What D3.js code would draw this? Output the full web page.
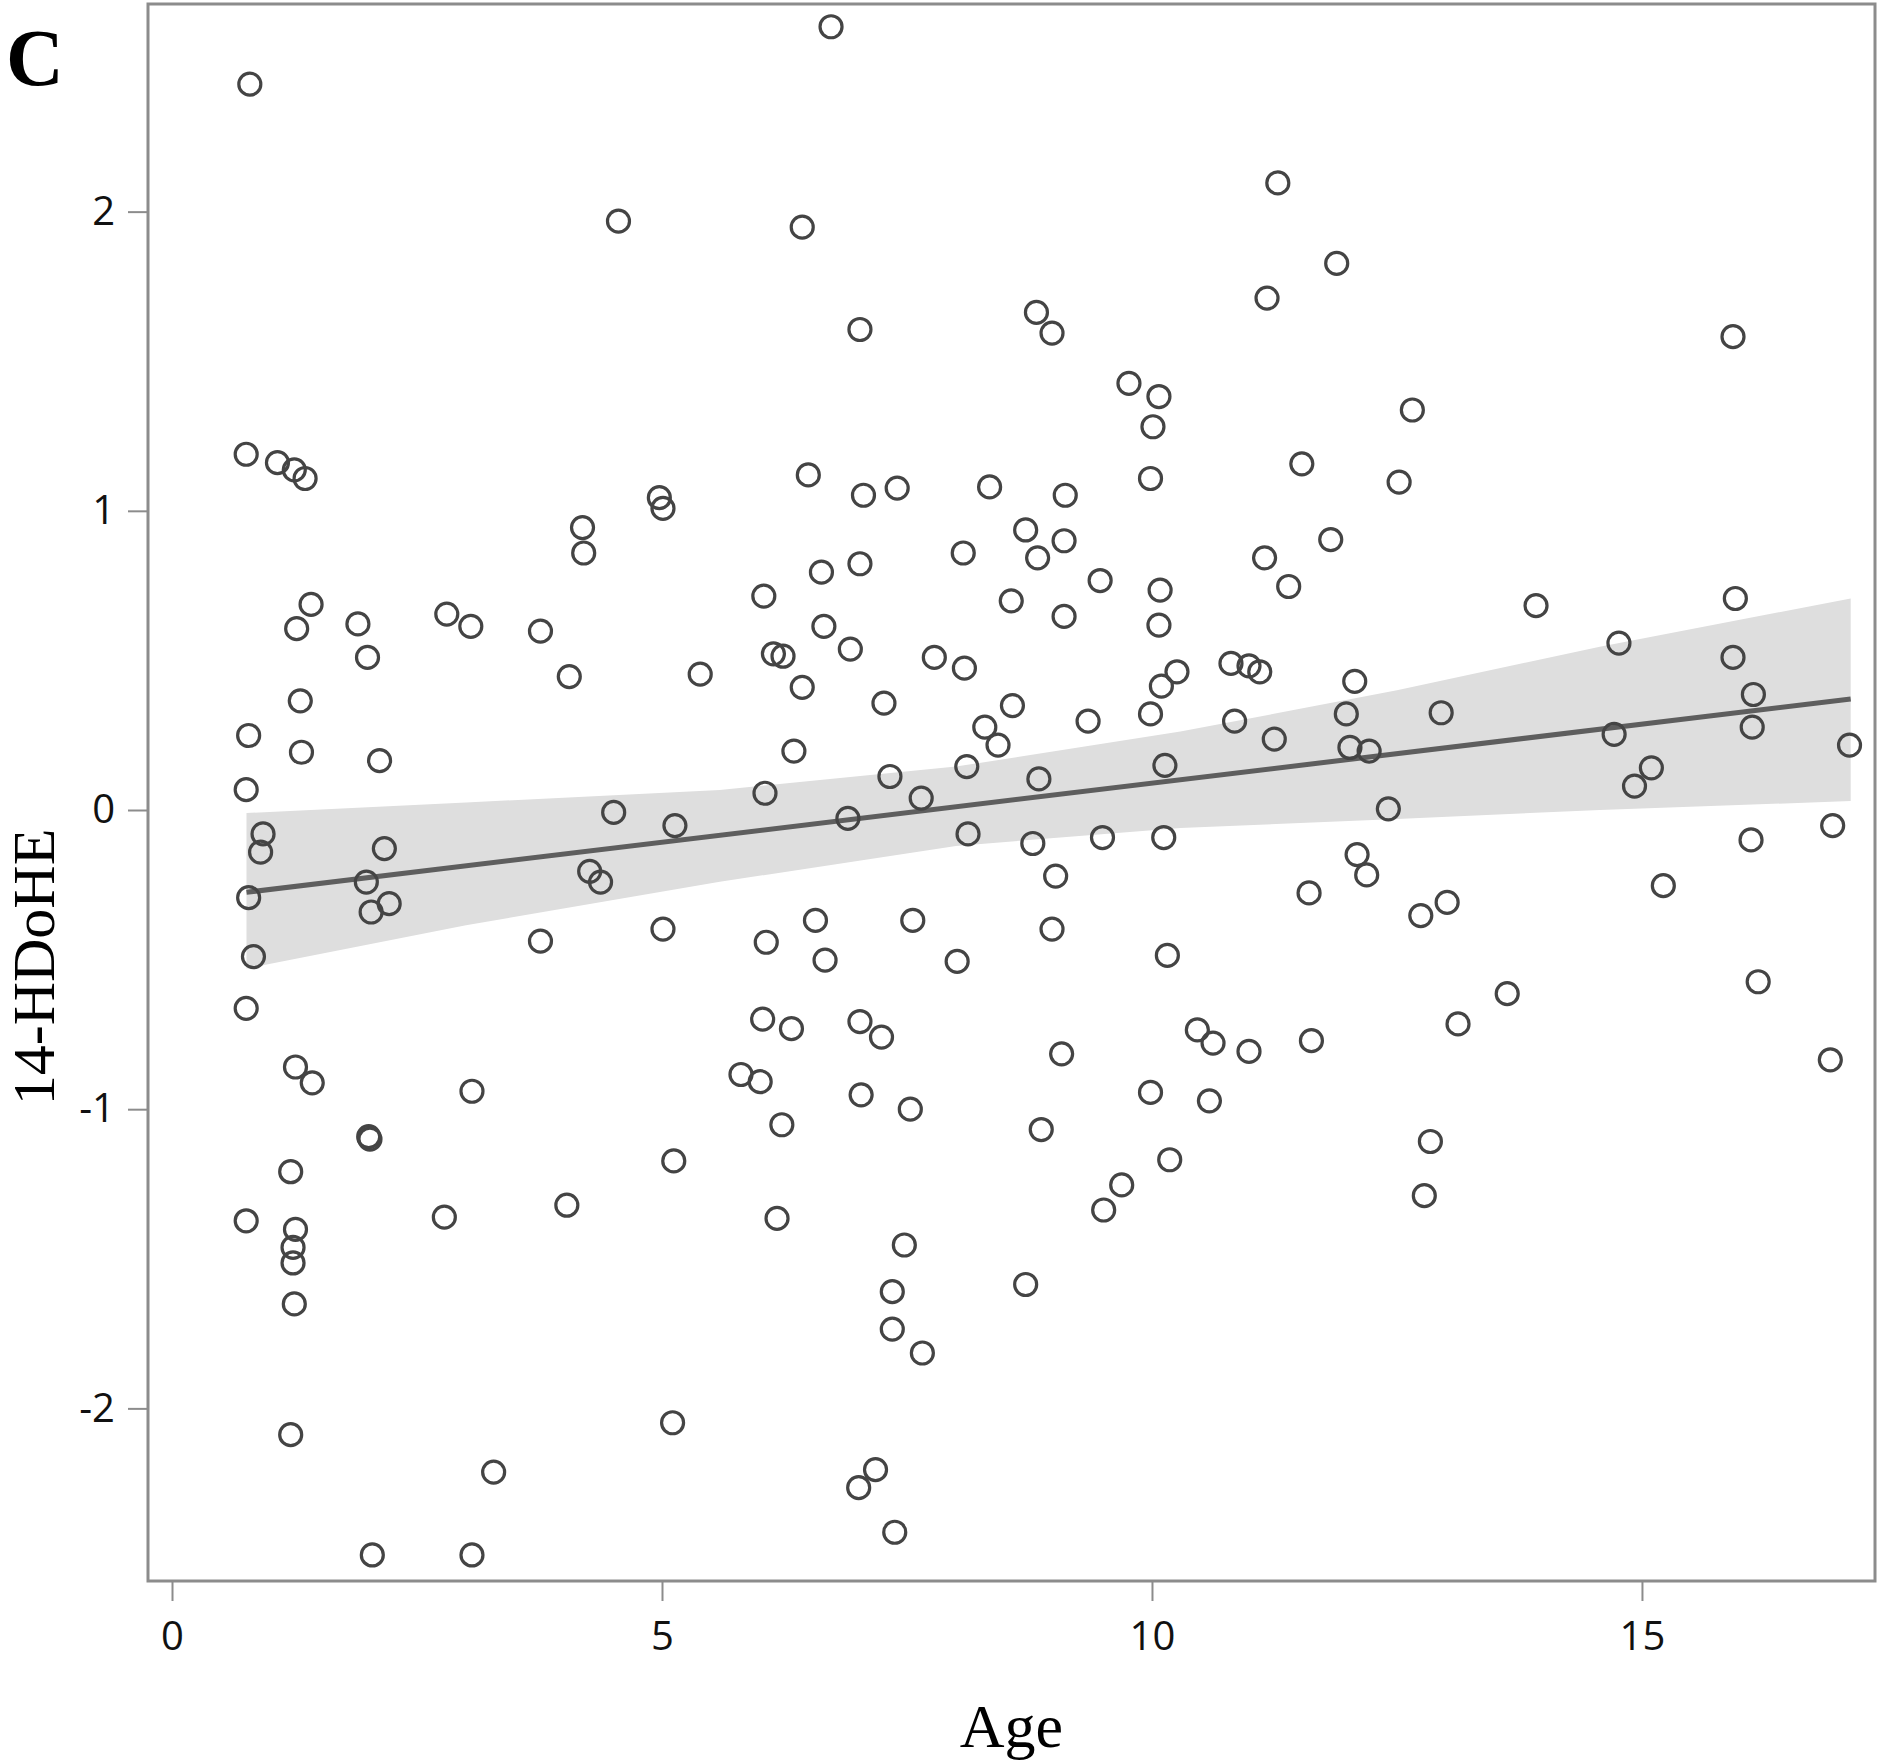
<!DOCTYPE html>
<html lang='en'>
  <head>
    <meta charset="utf-8">
    <style>
      body { margin: 0; background: #ffffff; }
      .tick text {
            font-family: "Open Sans", sans-serif;
            font-size: 40px;
            fill: #111111;
      }
      .title {
            font-family: "Liberation Serif", "Times New Roman", serif;
            fill: #000000;
      }
    </style>
    <title>14-HDoHE vs Age</title>
    <!-- Load d3.js -->
    <script src="https://d3js.org/d3.v7.min.js"></script>
  </head>

  <body>
    <div id="scatter"></div>

  <script>

    // ages (x) of every subject
    var ages = [
      0.794, 0.757, 1.076, 1.248, 1.358, 1.419, 1.272, 1.309, 0.782, 1.321,
      0.757, 0.929, 0.904, 0.782, 0.831, 0.757, 1.260, 1.431, 1.211, 0.757,
      1.260, 1.235, 1.235, 1.248, 1.211, 1.897, 1.995, 2.118, 2.167, 1.983,
      2.216, 2.032, 2.007, 2.020, 2.044, 2.804, 3.049, 3.061, 2.779, 3.282,
      3.061, 3.760, 4.054, 4.189, 4.201, 4.507, 4.262, 4.373, 3.760, 4.029,
      4.556, 4.973, 5.010, 5.390, 5.132, 5.010, 5.120, 5.108, 6.039, 6.137,
      6.235, 6.431, 6.346, 6.051, 6.064, 6.027, 6.321, 5.806, 6.002, 6.223,
      6.174, 6.431, 6.725, 6.493, 7.020, 7.056, 7.020, 6.627, 6.652, 6.922,
      6.897, 6.566, 6.664, 7.020, 7.032, 7.007, 7.179, 7.400, 7.265, 7.326,
      7.645, 7.559, 7.240, 7.534, 7.473, 7.350, 7.350, 7.657, 7.375, 7.779,
      8.086, 8.074, 8.343, 8.294, 8.429, 8.110, 8.123, 8.012, 8.821, 8.980,
      8.711, 8.833, 9.115, 9.103, 8.564, 9.103, 8.576, 8.846, 8.784, 9.017,
      8.980, 9.078, 8.870, 8.711, 9.765, 10.071, 10.010, 9.985, 9.471, 10.083,
      10.071, 10.255, 10.096, 9.985, 9.348, 10.132, 9.495, 10.120, 10.157, 9.985,
      9.691, 9.507, 10.181, 11.284, 11.174, 11.529, 11.149, 11.395, 10.806, 10.990,
      11.100, 10.843, 11.248, 10.463, 10.623, 10.990, 10.586, 11.885, 11.824, 12.522,
      12.657, 12.069, 11.983, 12.020, 12.216, 12.412, 12.093, 12.191, 11.603, 11.627,
      12.951, 12.743, 13.012, 13.123, 12.841, 12.779, 13.919, 13.625, 14.765, 14.716,
      15.096, 14.924, 15.218, 15.929, 15.953, 15.929, 16.137, 16.125, 16.113, 16.186,
      17.118, 16.946, 16.922
    ];

    // 14-HDoHE values (y), same order as ages
    var hdohe = [
      2.426, 1.189, 1.161, 1.137, 1.108, 0.687, 0.606, 0.365, 0.249, 0.193,
      0.068, -0.080, -0.141, -0.293, -0.490, -0.663, -0.859, -0.912, -1.209, -1.373,
      -1.402, -1.462, -1.514, -1.651, -2.088, 0.622, 0.510, 0.165, -0.129, -0.241,
      -0.313, -0.341, -1.092, -1.100, -2.490, 0.655, 0.614, -0.940, -1.361, -2.213,
      -2.490, 0.598, 0.446, 0.944, 0.859, -0.008, -0.205, -0.241, -0.438, -1.321,
      1.968, 1.044, 1.008, 0.454, -0.052, -0.398, -1.173, -2.048, 0.715, 0.522,
      0.514, 0.410, 0.197, 0.056, -0.442, -0.699, -0.731, -0.884, -0.908, -1.052,
      -1.365, 1.948, 2.618, 1.120, 1.606, 1.052, 0.823, 0.795, 0.614, 0.538,
      -0.028, -0.369, -0.502, -0.707, -0.952, -2.265, -2.205, 1.076, 0.357, 0.112,
      0.040, -0.369, -0.759, -1.000, -1.454, -1.610, -1.735, -1.815, -2.414, 0.510,
      0.474, 0.859, 1.080, 0.277, 0.217, 0.145, -0.080, -0.506, 1.663, 1.594,
      0.936, 0.843, 1.052, 0.900, 0.699, 0.647, 0.349, 0.104, -0.112, -0.221,
      -0.398, -0.815, -1.068, -1.586, 1.426, 1.382, 1.281, 1.108, 0.767, 0.735,
      0.618, 0.462, 0.414, 0.321, 0.297, 0.149, -0.092, -0.092, -0.486, -0.944,
      -1.253, -1.337, -1.169, 2.096, 1.711, 1.157, 0.843, 0.747, 0.490, 0.482,
      0.462, 0.297, 0.237, -0.735, -0.779, -0.807, -0.972, 1.827, 0.904, 1.096,
      1.337, 0.430, 0.321, 0.209, 0.197, 0.004, -0.149, -0.217, -0.277, -0.771,
      0.325, -0.353, -0.309, -0.715, -1.108, -1.289, 0.683, -0.614, 0.558, 0.253,
      0.141, 0.080, -0.253, 1.582, 0.707, 0.510, 0.386, 0.277, -0.100, -0.574,
      0.217, -0.052, -0.835
    ];

    // regression line and its confidence band
    var fitX = [0.76, 17.13];
    var fitY = [-0.275, 0.371];
    var bandX  = [0.76, 3.0, 5.59, 8.0, 10.29, 12.5, 14.57, 17.13];
    var bandLo = [-0.53, -0.385, -0.24, -0.12, -0.06, -0.03, 0.00, 0.03];
    var bandHi = [-0.01, 0.025, 0.067, 0.145, 0.262, 0.40, 0.546, 0.707];

    // tick values
    var xTicks = [0, 5, 10, 15];
    var yTicks = [-2, -1, 0, 1, 2];

    // set the dimensions and margins of the graph
    var margin = {top: 4, right: 9, bottom: 181, left: 148},
        width = 1884 - margin.left - margin.right,
        height = 1762 - margin.top - margin.bottom;

    var svg = d3.select("#scatter")
      .append("svg")
        .attr("width", 1884)
        .attr("height", 1762)
      .append("g")
        .attr("transform", "translate(" + margin.left + "," + margin.top + ")");

    var x = d3.scaleLinear()
      .domain([-0.245, 17.378])
      .range([0, width]);

    var y = d3.scaleLinear()
      .domain([-2.577, 2.694])
      .range([height, 0]);

    // plain labels like "2" and "-1"
    var plain = function(d) { return String(d); };

    // confidence band
    var band = bandX.map(function(v, i) { return {x: v, lo: bandLo[i], hi: bandHi[i]}; });
    svg.append("path")
      .datum(band)
      .attr("fill", "#dedede")
      .attr("d", d3.area()
        .x(function(d) { return x(d.x) })
        .y0(function(d) { return y(d.lo) })
        .y1(function(d) { return y(d.hi) }));

    // fitted line
    var fit = fitX.map(function(v, i) { return {x: v, y: fitY[i]}; });
    svg.append("path")
      .datum(fit)
      .attr("fill", "none")
      .attr("stroke", "#5e5e5e")
      .attr("stroke-width", 5)
      .attr("d", d3.line()
        .x(function(d) { return x(d.x) })
        .y(function(d) { return y(d.y) }));

    // the points
    svg.selectAll("dot")
      .data(ages)
      .enter()
      .append("circle")
        .attr("cx", function(d) { return x(d) })
        .attr("cy", function(d, i) { return y(hdohe[i]) })
        .attr("r", 11)
        .attr("fill", "none")
        .attr("stroke", "#444444")
        .attr("stroke-width", 3.2);

    // frame
    svg.append("rect")
      .attr("x", 0)
      .attr("y", 0)
      .attr("width", width)
      .attr("height", height)
      .attr("fill", "none")
      .attr("stroke", "#8c8c8c")
      .attr("stroke-width", 3);

    // X axis
    var gx = svg.append("g")
      .attr("transform", "translate(0," + height + ")")
      .call(d3.axisBottom(x).tickValues(xTicks).tickFormat(plain)
        .tickSize(20).tickSizeOuter(0).tickPadding(21));
    gx.select(".domain").remove();
    gx.selectAll(".tick line").attr("stroke", "#8c8c8c").attr("stroke-width", 2);

    // Y axis
    var gy = svg.append("g")
      .call(d3.axisLeft(y).tickValues(yTicks).tickFormat(plain)
        .tickSize(20).tickSizeOuter(0).tickPadding(13));
    gy.select(".domain").remove();
    gy.selectAll(".tick line").attr("stroke", "#8c8c8c").attr("stroke-width", 2);

    // axis titles
    svg.append("text")
      .attr("class", "title")
      .attr("x", width / 2)
      .attr("y", 1747 - margin.top)
      .attr("text-anchor", "middle")
      .style("font-size", "62px")
      .text("Age");

    svg.append("text")
      .attr("class", "title")
      .attr("transform", "translate(" + (54 - margin.left) + "," + (967 - margin.top) + ") rotate(-90)")
      .attr("text-anchor", "middle")
      .style("font-size", "60px")
      .text("14-HDoHE");

    // panel letter
    svg.append("text")
      .attr("class", "title")
      .attr("x", 6 - margin.left)
      .attr("y", 85 - margin.top)
      .style("font-size", "80px")
      .style("font-weight", "bold")
      .text("C");

  </script>
  </body>
</html>
